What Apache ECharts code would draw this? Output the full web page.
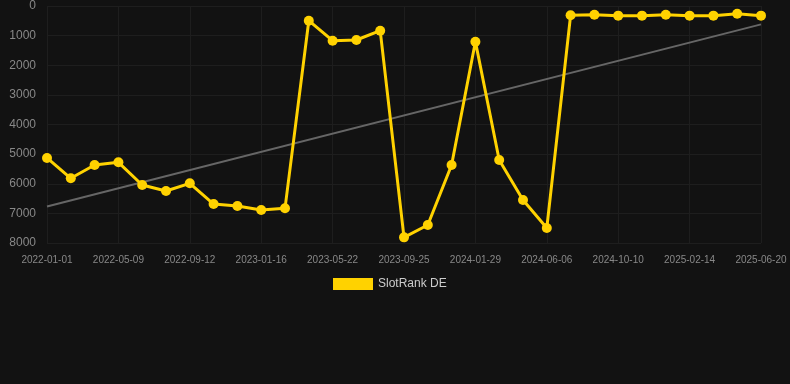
<!DOCTYPE html>
<html>
<head>
<meta charset="utf-8">
<script src="https://cdn.jsdelivr.net/npm/echarts@6/dist/echarts.min.js"></script>
<style>
html,body{margin:0;padding:0;background:#121212;}
#chart{width:790px;height:384px;}
</style>
</head>
<body>
<div id="chart"></div>
<script>
const categories = [
  '2022-01-01','2022-02-13','2022-03-27','2022-05-09','2022-06-20','2022-08-01',
  '2022-09-12','2022-10-24','2022-12-05','2023-01-16','2023-02-27','2023-04-10',
  '2023-05-22','2023-07-03','2023-08-14','2023-09-25','2023-11-06','2023-12-18',
  '2024-01-29','2024-03-12','2024-04-24','2024-06-06','2024-07-18','2024-08-29',
  '2024-10-10','2024-11-21','2025-01-02','2025-02-14','2025-03-28','2025-05-09',
  '2025-06-20'
];
const slotRankDE = [
  5130, 5815, 5367, 5277, 6042, 6245,
  5986, 6684, 6751, 6886, 6830, 496,
  1170, 1148, 833, 7809, 7392, 5367,
  1204, 5198, 6549, 7494, 315, 293,
  326, 326, 293, 326, 326, 259,
  326
];
const trendStart = 6770;
const trendEnd = 620;
const seriesName = 'SlotRank DE';

const chart = echarts.init(document.getElementById('chart'));
chart.setOption({
  backgroundColor: '#121212',
  animation: false,
  grid: { left: 47, right: 29, top: 6, bottom: 141 },
  legend: {
    data: [seriesName],
    top: 273,
    left: 328,
    itemWidth: 40,
    itemHeight: 12,
    icon: 'rect',
    textStyle: { color: '#cccccc', fontSize: 12 }
  },
  xAxis: {
    type: 'category',
    data: categories,
    boundaryGap: false,
    axisLine: { show: false },
    axisTick: { show: false },
    axisLabel: { color: '#888888', fontSize: 10, interval: 2, margin: 12 },
    splitLine: { show: true, interval: 2, lineStyle: { color: '#1e1e1e', width: 1 } }
  },
  yAxis: {
    type: 'value',
    inverse: true,
    min: 0,
    max: 8000,
    interval: 1000,
    axisLine: { show: false },
    axisTick: { show: false },
    axisLabel: { color: '#888888', fontSize: 12, margin: 11, formatter: function (v) { return String(v); } },
    splitLine: { lineStyle: { color: '#1e1e1e', width: 1 } }
  },
  series: [
    {
      name: 'trend',
      type: 'line',
      data: [[categories[0], trendStart], [categories[categories.length - 1], trendEnd]],
      symbol: 'none',
      lineStyle: { color: '#666666', width: 2 },
      silent: true,
      z: 1
    },
    {
      name: seriesName,
      type: 'line',
      data: slotRankDE,
      symbol: 'circle',
      symbolSize: 10,
      itemStyle: { color: '#FFD200' },
      lineStyle: { color: '#FFD200', width: 3 },
      z: 3
    }
  ]
});
</script>
</body>
</html>
